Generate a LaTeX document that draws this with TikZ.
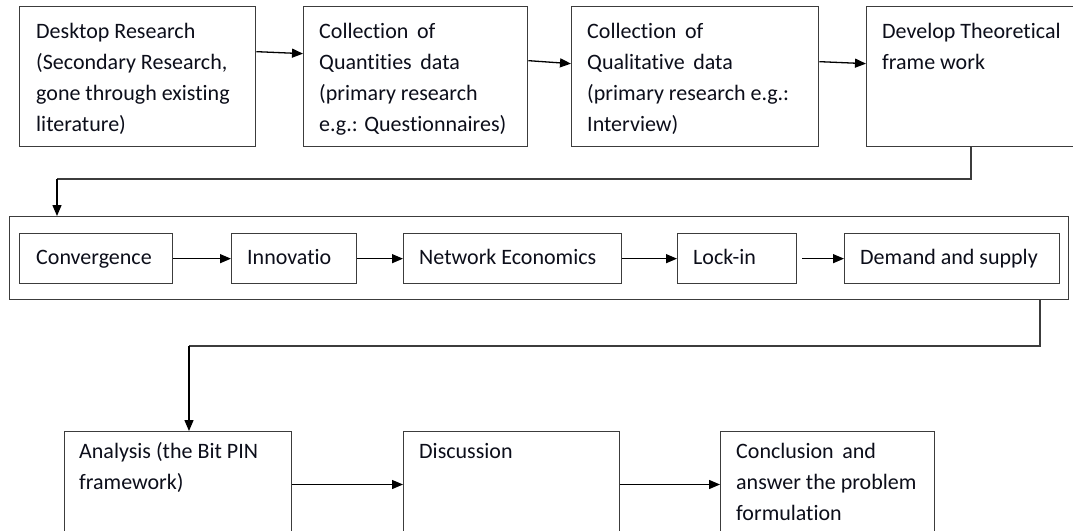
\documentclass[tikz,border=0pt]{standalone}
\usepackage{fontspec}
\setmainfont{Carlito}[Ligatures=NoCommon]
\usetikzlibrary{arrows.meta,calc}
\definecolor{edge}{HTML}{3C3C3C}
\definecolor{ink}{HTML}{0C0E1A}
\newcommand{\boxtext}[1]{\parbox[t]{300pt}{\raggedright\fontsize{22}{31.2}\selectfont #1}}
\tikzset{
  box/.style={draw=edge, line width=1.3pt, fill=white, rectangle, anchor=north west, inner sep=0pt},
  lbl/.style={anchor=base west, inner sep=0pt, text=ink},
  flow/.style={draw=black, line width=1.3pt, -{Triangle[length=11pt,width=9pt]}},
  wire/.style={draw=edge, line width=1.3pt}
}
\begin{document}
\begin{tikzpicture}[x=1pt,y=-1pt]
\useasboundingbox (0,0) rectangle (1073,530);
\fill[white] (0,0) rectangle (1073,530);

% top row
\node[box, minimum width=236pt, minimum height=140pt] (b1) at (19,6) {};
\node[box, minimum width=224pt, minimum height=140pt] (b2) at (303,6) {};
\node[box, minimum width=247pt, minimum height=140pt] (b3) at (571,6) {};
\node[box, minimum width=215pt, minimum height=140pt] (b4) at (866,6) {};
\node[lbl] at ($(b1.north west)+(17,32)$) {\boxtext{Desktop Research\\(Secondary Research,\\gone through existing\\literature)}};
\node[lbl] at ($(b2.north west)+(16,32)$) {\boxtext{Collection\ \,of\\Quantities\ \,data\\(primary research\\e.g.: Questionnaires)}};
\node[lbl] at ($(b3.north west)+(16,32)$) {\boxtext{Collection\ \,of\\Qualitative\ \,data\\(primary research e.g.:\\Interview)}};
\node[lbl] at ($(b4.north west)+(16,32)$) {\boxtext{Develop Theoretical\\frame work}};

\draw[flow] ($(b1.east)+(0,-25)$) -- ($(b2.west)+(0,-23)$);
\draw[flow] ($(b2.east)+(0,-16)$) -- ($(b3.west)+(0,-13)$);
\draw[flow] ($(b3.east)+(0,-15)$) -- ($(b4.west)+(0,-13)$);

% framework container
\node[box, minimum width=1059pt, minimum height=83pt] (frame) at (9,216) {};
\node[box, minimum width=153pt, minimum height=50pt] (c1) at (19,233) {};
\node[box, minimum width=125pt, minimum height=50pt] (c2) at (231,233) {};
\node[box, minimum width=218pt, minimum height=50pt] (c3) at (403,233) {};
\node[box, minimum width=119pt, minimum height=50pt] (c4) at (677,233) {};
\node[box, minimum width=215pt, minimum height=50pt] (c5) at (844,233) {};
\node[lbl] at ($(c1.north west)+(17,31)$) {\boxtext{Convergence}};
\node[lbl] at ($(c2.north west)+(16,31)$) {\boxtext{Innovatio}};
\node[lbl] at ($(c3.north west)+(16,31)$) {\boxtext{Network Economics}};
\node[lbl] at ($(c4.north west)+(16,31)$) {\boxtext{Lock-in}};
\node[lbl] at ($(c5.north west)+(16,31)$) {\boxtext{Demand and supply}};

\draw[flow] (c1.east) -- (c2.west);
\draw[flow] (c2.east) -- (c3.west);
\draw[flow] (c3.east) -- (c4.west);
\draw[flow] ($(c4.east)+(5,0)$) -- (c5.west);

% bottom row
\node[box, minimum width=227pt, minimum height=140pt] (d1) at (64,431) {};
\node[box, minimum width=216pt, minimum height=140pt] (d2) at (403,431) {};
\node[box, minimum width=214pt, minimum height=140pt] (d3) at (720,431) {};
\node[lbl] at ($(d1.north west)+(15,27)$) {\boxtext{Analysis (the Bit PIN\\framework)}};
\node[lbl] at ($(d2.north west)+(16,27)$) {\boxtext{Discussion}};
\node[lbl] at ($(d3.north west)+(16,27)$) {\boxtext{Conclusion\ \,and\\answer the problem\\formulation}};

\draw[flow] ($(d1.north east)+(0,53.5)$) -- ($(d2.north west)+(0,53.5)$);
\draw[flow] ($(d2.north east)+(0,53.5)$) -- ($(d3.north west)+(0,53.5)$);

% links between the stages
\coordinate (k1) at (971,179);
\coordinate (k2) at (57,179);
\draw[wire] (b4.south -| k1) -- (k1) -- (k2);
\draw[flow] (k2) -- (k2 |- frame.north);
\coordinate (k3) at (1040,346);
\coordinate (k4) at (189,346);
\draw[wire] (frame.south -| k3) -- (k3) -- (k4);
\draw[flow] (k4) -- (k4 |- d1.north);
\end{tikzpicture}
\end{document}
